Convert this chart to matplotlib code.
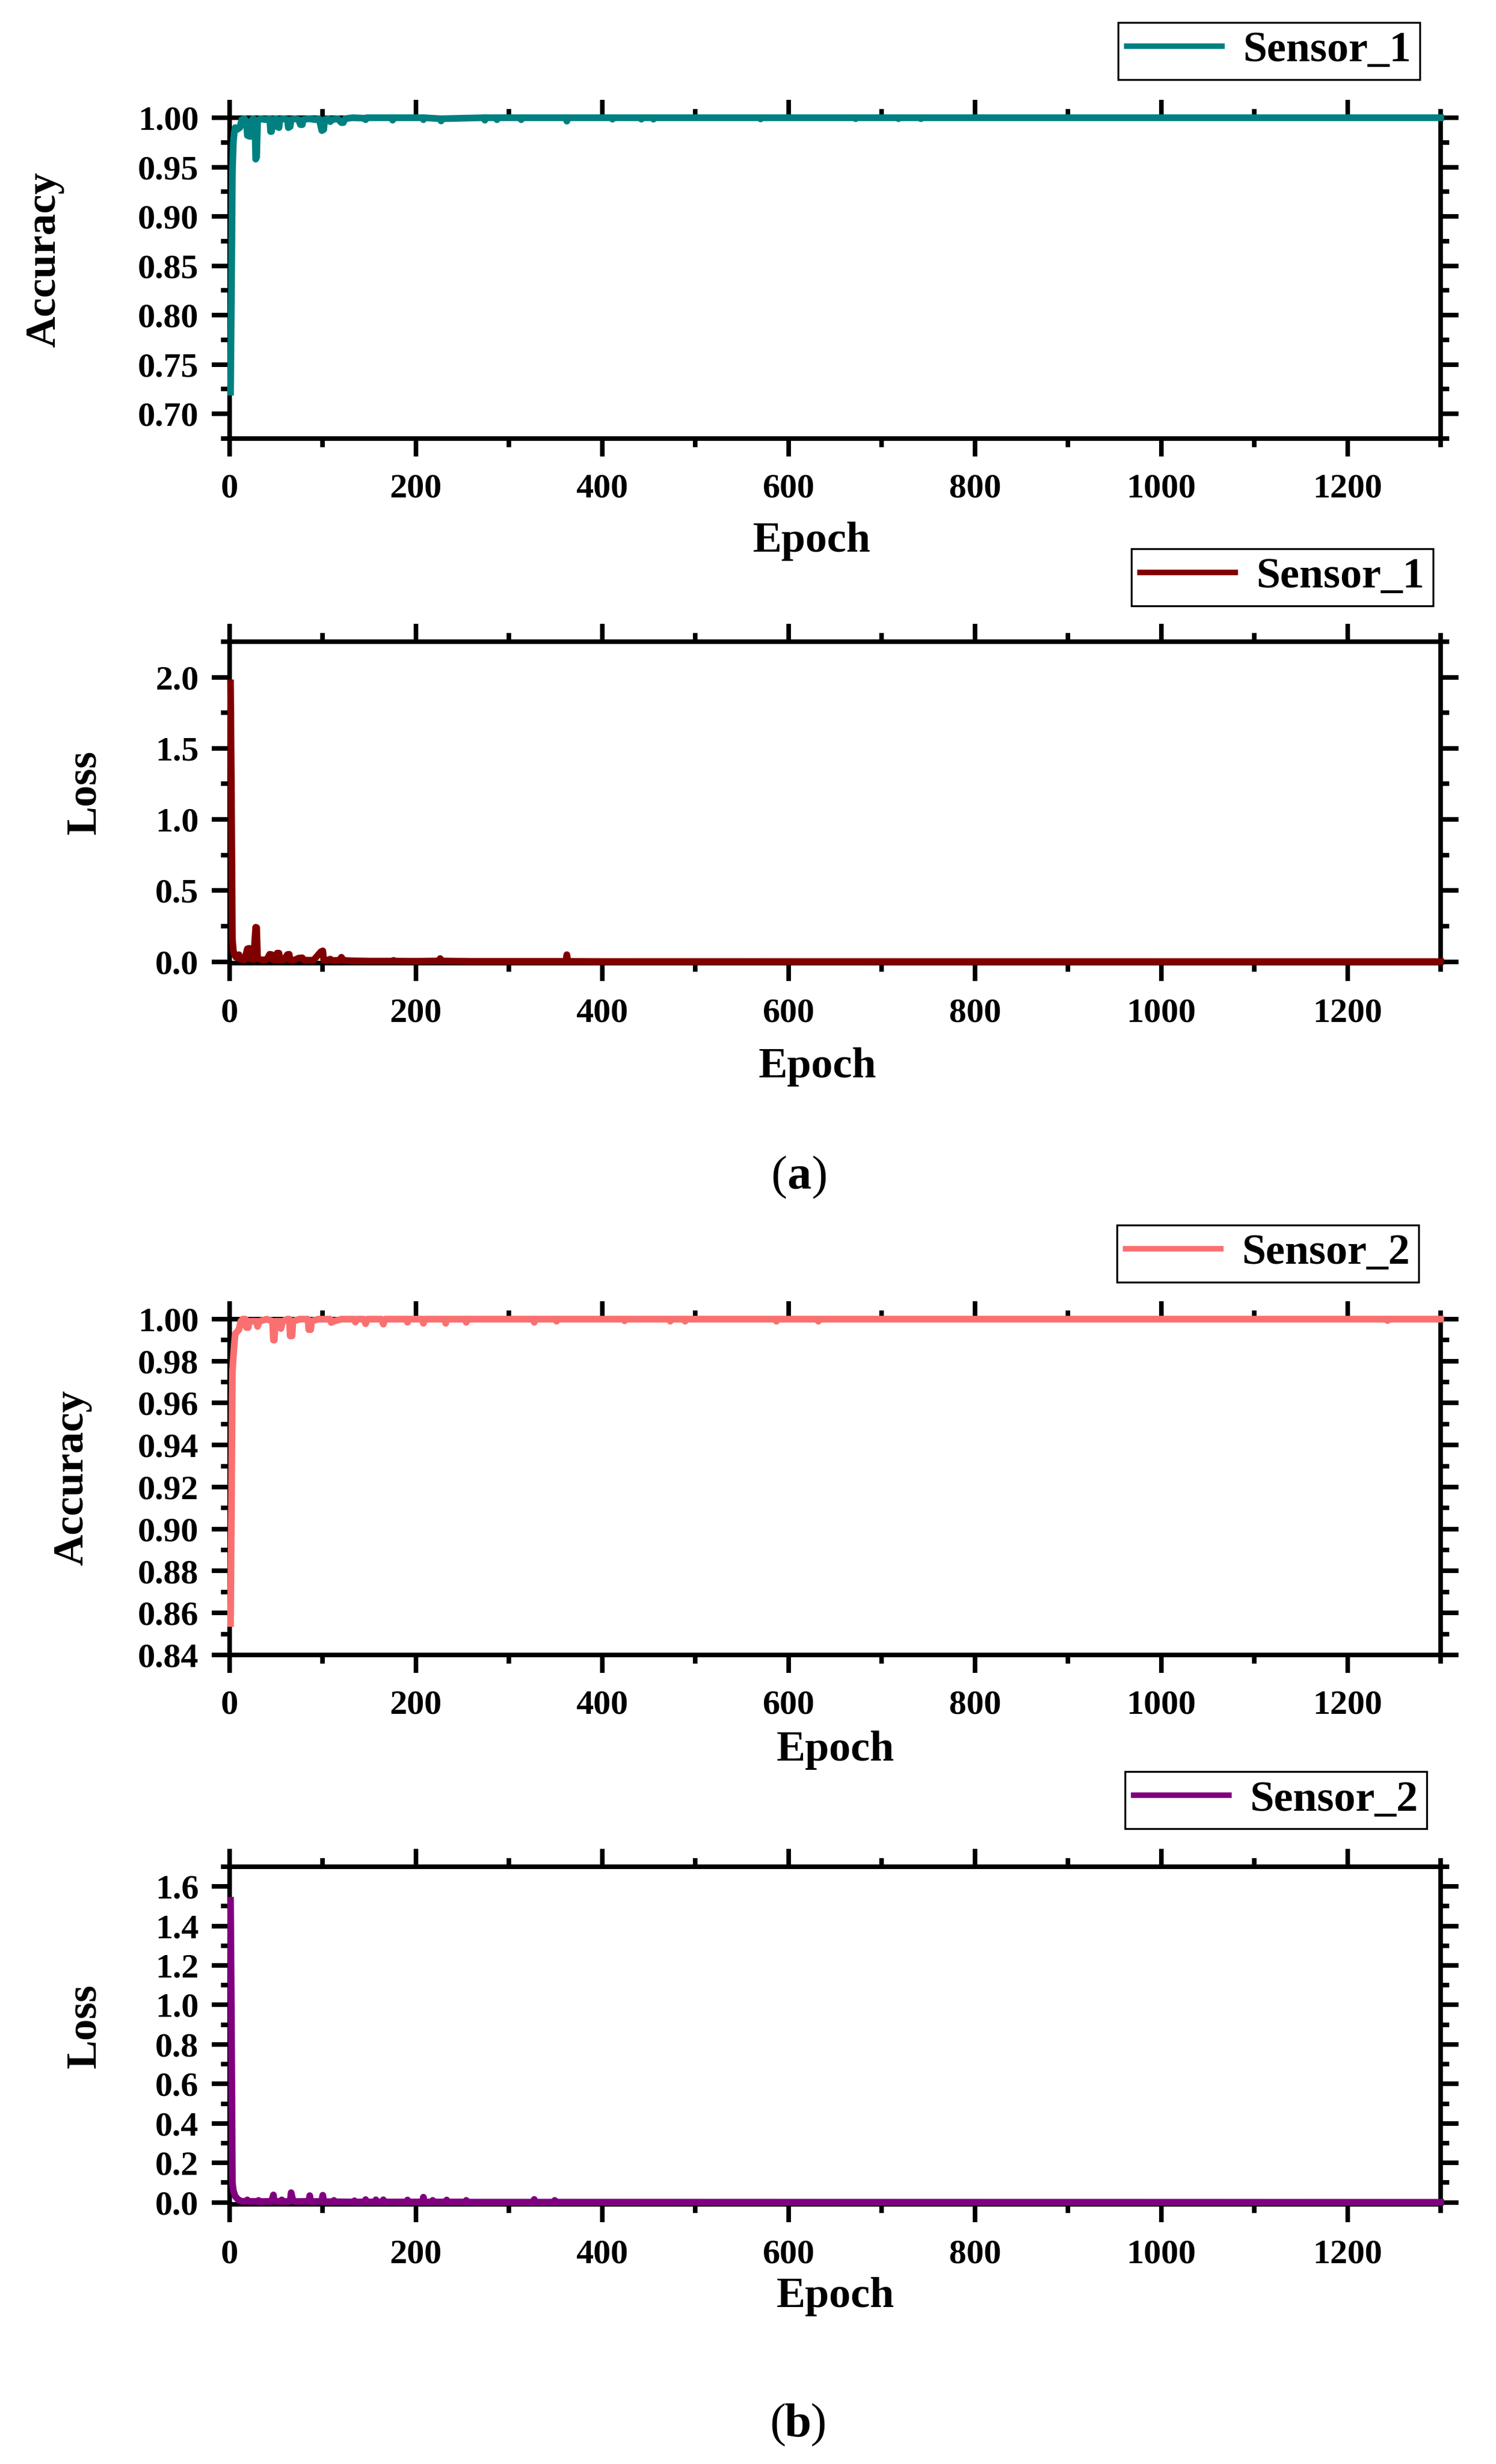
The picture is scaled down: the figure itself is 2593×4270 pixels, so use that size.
import matplotlib
matplotlib.use("Agg")
import matplotlib.pyplot as plt
from matplotlib.ticker import MultipleLocator, FormatStrFormatter

# ---- data (epoch, value) ----
acc1_epoch = [1, 2, 3, 4, 5, 6, 8, 11, 13, 16, 18, 19, 22, 23, 25, 27, 28, 29, 30, 33,
              38, 43, 44, 45, 46, 50, 51, 53, 54, 58, 62, 63, 65, 66, 70, 74, 76, 78, 79, 85,
              92, 96, 99, 101, 102, 106, 108, 110, 116, 120, 122, 124, 132, 145, 146, 147,
              174, 175, 176, 207, 208, 209, 226, 227, 228, 273, 274, 275, 286, 287, 288,
              312, 313, 314, 361, 362, 363, 410, 411, 412, 441, 442, 443, 454, 455, 456,
              569, 570, 571, 671, 672, 673, 717, 718, 719, 741, 742, 743, 1300]
acc1_value = [0.722, 0.825, 0.945, 0.975, 0.985, 0.990, 0.988, 0.990, 0.998, 0.999, 0.996, 0.982,
              0.981, 0.996, 0.999, 0.998, 0.958, 0.960, 0.996, 0.999,
              0.998, 0.999, 0.986, 0.986, 0.998, 0.999, 0.991, 0.990, 0.998, 0.999, 0.998, 0.990,
              0.991, 0.998, 0.999, 0.998, 0.993, 0.993, 0.998, 0.999,
              0.998, 0.999, 0.987, 0.988, 0.998, 0.999, 0.996, 0.998, 0.999, 0.995, 0.995, 0.999,
              1.0, 0.9995, 0.998, 1.0,
              1.0, 0.9975, 1.0, 1.0, 0.998, 1.0, 0.999, 0.9967, 0.999, 1.0, 0.9975, 1.0,
              1.0, 0.998, 1.0,
              1.0, 0.998, 1.0, 1.0, 0.9965, 1.0, 1.0, 0.9985, 1.0, 1.0, 0.9985, 1.0,
              1.0, 0.9985, 1.0,
              1.0, 0.9988, 1.0, 1.0, 0.999, 1.0, 1.0, 0.999, 1.0, 1.0, 0.999, 1.0, 1.0]

loss1_epoch = [1, 2, 3, 4, 5, 7, 9, 10, 11, 13, 16, 19, 21, 22, 26, 27, 28, 29, 30, 35,
               40, 43, 45, 46, 50, 51, 53, 54, 58, 62, 64, 65, 70, 74, 78, 80, 90, 98, 100, 101,
               105, 108, 110, 118, 120, 122, 130, 150, 175, 176, 177, 200, 225, 226, 227,
               260, 300, 361, 362, 363, 400, 1300]
loss1_value = [1.96, 1.16, 0.16, 0.08, 0.05, 0.03, 0.045, 0.049, 0.02, 0.015, 0.012, 0.09, 0.094,
               0.02, 0.015, 0.15, 0.242, 0.24, 0.02, 0.012,
               0.015, 0.052, 0.05, 0.014, 0.013, 0.06, 0.06, 0.012, 0.011, 0.05, 0.052, 0.011,
               0.012, 0.025, 0.027, 0.01, 0.01, 0.07, 0.076, 0.012,
               0.01, 0.018, 0.008, 0.01, 0.031, 0.01, 0.006, 0.004, 0.004, 0.009, 0.004, 0.003,
               0.005, 0.022, 0.005,
               0.002, 0.002, 0.002, 0.049, 0.002, 0.001, 0.0005]

acc2_epoch = [1, 2, 3, 4, 5, 6, 8, 10, 12, 14, 17, 18, 20, 21, 26, 29, 30, 32, 40, 46,
              47, 48, 49, 52, 54, 55, 57, 62, 64, 65, 67, 68, 75, 84, 85, 87, 88, 95, 108, 109,
              112, 120, 134, 135, 137, 144, 146, 148, 163, 165, 167, 190, 191, 192, 207, 208,
              210, 231, 232, 233, 253, 254, 255, 326, 327, 328, 350, 351, 352, 423, 424, 425,
              472, 473, 474, 488, 489, 490, 586, 587, 588, 631, 632, 633, 1242, 1243, 1244, 1300]
acc2_value = [0.855, 0.910, 0.975, 0.982, 0.988, 0.993, 0.994, 0.995, 0.999, 1.0, 1.0, 0.996,
              0.996, 0.999, 0.999, 0.999, 0.9965, 0.999, 1.0, 0.999,
              0.990, 0.990, 0.999, 0.999, 0.999, 0.9955, 0.999, 1.0, 1.0, 0.992, 0.992, 0.999,
              1.0, 1.0, 0.995, 0.995, 0.999, 1.0, 1.0, 0.9984,
              0.999, 1.0, 1.0, 0.9986, 1.0, 1.0, 0.9978, 1.0, 1.0, 0.9976, 1.0, 1.0, 0.9985,
              1.0, 1.0, 0.998,
              1.0, 1.0, 0.998, 1.0, 1.0, 0.9985, 1.0, 1.0, 0.9985, 1.0, 1.0, 0.999, 1.0,
              1.0, 0.9992, 1.0,
              1.0, 0.999, 1.0, 1.0, 0.999, 1.0, 1.0, 0.999, 1.0, 1.0, 0.999, 1.0, 1.0, 0.9993,
              1.0, 1.0]

loss2_epoch = [1, 2, 3, 4, 6, 8, 10, 14, 18, 19, 20, 30, 31, 32, 45, 47, 48, 55, 56, 57,
               65, 66, 68, 70, 85, 86, 87, 99, 100, 101, 111, 112, 113, 133, 134, 135, 145,
               146, 147, 156, 157, 158, 164, 165, 166, 190, 191, 192, 207, 208, 209, 217,
               218, 219, 232, 233, 234, 253, 254, 255, 326, 327, 328, 348, 349, 350, 1300]
loss2_value = [1.53, 0.90, 0.10, 0.06, 0.03, 0.02, 0.01, 0.005, 0.006, 0.0125, 0.005, 0.005,
               0.01, 0.004, 0.005, 0.0375, 0.005, 0.005, 0.0125, 0.004,
               0.005, 0.049, 0.01, 0.004, 0.005, 0.034, 0.004, 0.005, 0.036, 0.004, 0.003,
               0.01, 0.003, 0.002, 0.008, 0.002, 0.002,
               0.014, 0.002, 0.002, 0.013, 0.002, 0.002, 0.013, 0.002, 0.002, 0.012, 0.002,
               0.002, 0.026, 0.002, 0.002,
               0.01, 0.002, 0.002, 0.012, 0.002, 0.002, 0.01, 0.001, 0.001, 0.015, 0.001,
               0.001, 0.01, 0.001, 0.0005]

legend_names = ["Sensor_1", "Sensor_1", "Sensor_2", "Sensor_2"]
y_titles = ["Accuracy", "Loss", "Accuracy", "Loss"]
colors = ["#008080", "#800000", "#FA7070", "#800080"]

W, H = 2593, 4270


def fx(x):
    return x / W


def fy(y):
    return 1 - y / H


def main():
    plt.rcParams["font.family"] = ["Liberation Serif", "DejaVu Serif"]
    plt.rcParams["font.weight"] = "bold"
    plt.rcParams["axes.linewidth"] = 1.9
    for a in ["xtick", "ytick"]:
        plt.rcParams[a + ".direction"] = "out"
        plt.rcParams[a + ".major.size"] = 7.4
        plt.rcParams[a + ".minor.size"] = 3.6
        plt.rcParams[a + ".major.width"] = 1.9
        plt.rcParams[a + ".minor.width"] = 1.9
        plt.rcParams[a + ".labelsize"] = 14.5
    plt.rcParams["xtick.major.pad"] = 7
    plt.rcParams["ytick.major.pad"] = 5.5

    fig = plt.figure(figsize=(W / 300, H / 300), dpi=300)

    # axes boxes in pixels: top, bottom
    boxes = [(204, 760), (1112, 1669), (2286, 2868), (3235, 3820)]
    x_left, x_right = 398, 2497

    series = [(acc1_epoch, acc1_value), (loss1_epoch, loss1_value),
              (acc2_epoch, acc2_value), (loss2_epoch, loss2_value)]
    ylims = [(0.675, 1.0), (-0.01, 2.25), (0.84, 1.0), (-0.01, 1.7)]
    ymaj = [0.05, 0.5, 0.02, 0.2]
    yfmt = ["%.2f", "%.1f", "%.2f", "%.1f"]
    leg_pos = [(2461, 39), (2484, 951), (2459, 2123), (2473, 3070)]
    xlab_pos = [(0.4807, 938), (0.4855, 1849), (0.5, 3033), (0.5, 3980)]
    ylab_pos = [(77, 450), (147, 1373), (125, 2561), (147, 3511)]

    for i in range(4):
        top, bot = boxes[i]
        ax = fig.add_axes([fx(x_left), fy(bot), (x_right - x_left) / W, (bot - top) / H])
        ep, val = series[i]
        ax.plot(ep, val, color=colors[i], lw=2.8, label=legend_names[i],
                clip_on=False, zorder=3, solid_joinstyle="round")
        ax.set_xlim(0, 1300)
        ax.set_ylim(*ylims[i])
        ax.xaxis.set_major_locator(MultipleLocator(200))
        ax.xaxis.set_minor_locator(MultipleLocator(100))
        ax.yaxis.set_major_locator(MultipleLocator(ymaj[i]))
        ax.yaxis.set_minor_locator(MultipleLocator(ymaj[i] / 2))
        ax.yaxis.set_major_formatter(FormatStrFormatter(yfmt[i]))
        ax.tick_params(which="both", top=True, right=True)
        for lab in ax.get_xticklabels() + ax.get_yticklabels():
            lab.set_fontweight("bold")

        ax.set_xlabel("Epoch", fontsize=18, fontweight="bold", va="center")
        ax.xaxis.set_label_coords(xlab_pos[i][0], -(xlab_pos[i][1] - bot) / (bot - top))
        ax.set_ylabel(y_titles[i], fontsize=18, fontweight="bold", va="center")
        ax.yaxis.set_label_coords((ylab_pos[i][0] - x_left) / (x_right - x_left),
                                  (bot - ylab_pos[i][1]) / (bot - top))

        leg = ax.legend(loc="upper right", bbox_to_anchor=(fx(leg_pos[i][0]), fy(leg_pos[i][1])),
                        bbox_transform=fig.transFigure, frameon=True, fancybox=False,
                        edgecolor="black", framealpha=1, borderpad=0.2, borderaxespad=0,
                        handlelength=2.2, handletextpad=0.48,
                        prop={"size": 18, "weight": "bold"})
        leg.get_frame().set_linewidth(0.8)
        leg.get_lines()[0].set_linewidth(2.3)

    # panel tags: "(" and ")" regular, letter bold
    for letter, cx, base in [("a", 1385, 2060), ("b", 1383, 4222)]:
        fig.text(fx(cx - 35), fy(base), "(", fontsize=20, fontweight="normal", ha="center", va="baseline")
        fig.text(fx(cx), fy(base), letter, fontsize=20, fontweight="bold", ha="center", va="baseline")
        fig.text(fx(cx + 35), fy(base), ")", fontsize=20, fontweight="normal", ha="center", va="baseline")

    fig.savefig("out.png", dpi=300, facecolor="white")


if __name__ == '__main__':
    main()
